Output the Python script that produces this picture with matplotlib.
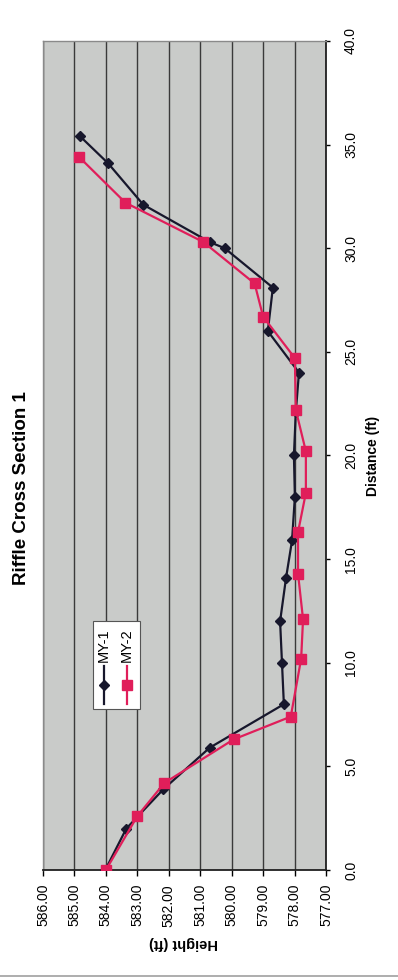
import matplotlib
matplotlib.use('Agg')
import matplotlib.pyplot as plt
from matplotlib.lines import Line2D
from matplotlib.patches import Rectangle
import numpy as np

plt.rcParams['font.family'] = ['Liberation Sans', 'DejaVu Sans']

# survey stations: distance across the section (ft) and ground height (ft)
dist_my1 = [0.0, 2.0, 3.9, 5.9, 8.0, 10.0, 12.0, 14.1, 15.9, 18.0, 20.0,
            22.1, 24.0, 26.0, 28.1, 30.0, 30.3, 32.1, 34.1, 35.4]
elev_my1 = [584.02, 583.35, 582.17, 580.70, 578.34, 578.40, 578.46, 578.27,
            578.08, 577.99, 578.02, 577.96, 577.86, 578.85, 578.69, 580.22,
            580.70, 582.81, 583.93, 584.82]

dist_my2 = [0.0, 2.6, 4.2, 6.3, 7.4, 10.2, 12.1, 14.3, 16.3, 18.2, 20.2,
            22.2, 24.7, 26.7, 28.3, 30.3, 32.2, 34.4]
elev_my2 = [584.0, 583.0, 582.14, 579.94, 578.12, 577.79, 577.73, 577.89,
            577.89, 577.64, 577.64, 577.96, 577.99, 579.0, 579.27, 580.9,
            583.38, 584.85]

series_names = ['MY-1', 'MY-2']
height_ticks = [586, 585, 584, 583, 582, 581, 580, 579, 578, 577]
height_labels = ['586.00', '585.00', '584.00', '583.00', '582.00',
                 '581.00', '580.00', '579.00', '578.00', '577.00']
dist_ticks = [0, 5, 10, 15, 20, 25, 30, 35, 40]
dist_labels = ['0.0', '5.0', '10.0', '15.0', '20.0', '25.0', '30.0', '35.0', '40.0']

W, H = 398, 980
C1 = '#17172c'
C2 = '#e01e5a'


def fx(px):
    return px / W


def fy(py):
    return 1 - py / H


fig = plt.figure(figsize=(W / 100, H / 100), dpi=100)
fig.patch.set_facecolor('white')

# the sheet is turned on its side: height runs left->right, distance upward
ax = fig.add_axes([fx(43), fy(870), fx(326) - fx(43), fy(41) - fy(870)])
ax.set_facecolor('#c9cbc9')

ax.plot(elev_my1, dist_my1, color=C1, marker='D', ms=5.5, lw=1.6, zorder=3)
ax.plot(elev_my2, dist_my2, color=C2, marker='s', ms=6.5, lw=1.6, zorder=4)

ax.set_xlim(586, 577)
ax.set_ylim(0, 40)

ax.set_xticks(height_ticks)
ax.set_xticklabels(height_labels, rotation=90, va='top', ha='center')
ax.yaxis.tick_right()
ax.set_yticks(dist_ticks)
ax.set_yticklabels(dist_labels, rotation=90, va='center', ha='left')
ax.tick_params(axis='x', length=4, width=1, pad=6, labelsize=10, direction='out')
ax.tick_params(axis='y', length=3, width=1, pad=10, labelsize=10, direction='out',
               left=False, right=True)

ax.grid(axis='x', color='#3a3a3a', lw=1.0)
ax.grid(axis='y', visible=False)
ax.set_axisbelow(True)

for side in ['bottom', 'right']:
    ax.spines[side].set_color('#202020')
    ax.spines[side].set_linewidth(1.3)
for side in ['top', 'left']:
    ax.spines[side].set_color('#8a8a8a')
    ax.spines[side].set_linewidth(1.0)

fig.text(fx(22), fy(488), 'Riffle Cross Section 1', rotation=90,
         ha='center', va='center', fontsize=13.5, fontweight='bold')
fig.text(fx(373), fy(456), 'Distance (ft)', rotation=90,
         ha='center', va='center', fontsize=10, fontweight='bold')
fig.text(fx(183), fy(943), 'Height (ft)', rotation=180,
         ha='center', va='center', fontsize=10.5, fontweight='bold')

# legend box, turned the same way as the chart
fig.add_artist(Rectangle((fx(93), fy(709)), fx(140) - fx(93), fy(621) - fy(709),
                         transform=fig.transFigure, facecolor='white',
                         edgecolor='#555555', lw=0.8, zorder=5))
leg_x = [104, 127]
leg_style = [(C1, 'D', 5.5), (C2, 's', 6.5)]
for x, name, (col, mk, ms) in zip(leg_x, series_names, leg_style):
    fig.add_artist(Line2D([fx(x), fx(x)], [fy(704), fy(666)], color=col, lw=1.6,
                          transform=fig.transFigure, zorder=6))
    fig.add_artist(Line2D([fx(x)], [fy(685)], color=col, marker=mk, ms=ms,
                          transform=fig.transFigure, zorder=7))
    fig.text(fx(x), fy(662), name, rotation=90, ha='center', va='bottom',
             fontsize=10.5, zorder=7)

# edge of the sheet
fig.add_artist(Line2D([0, 1], [fy(976), fy(976)], color='#a0a0a0', lw=1.2,
                      transform=fig.transFigure))

fig.savefig('out.png', dpi=100)
